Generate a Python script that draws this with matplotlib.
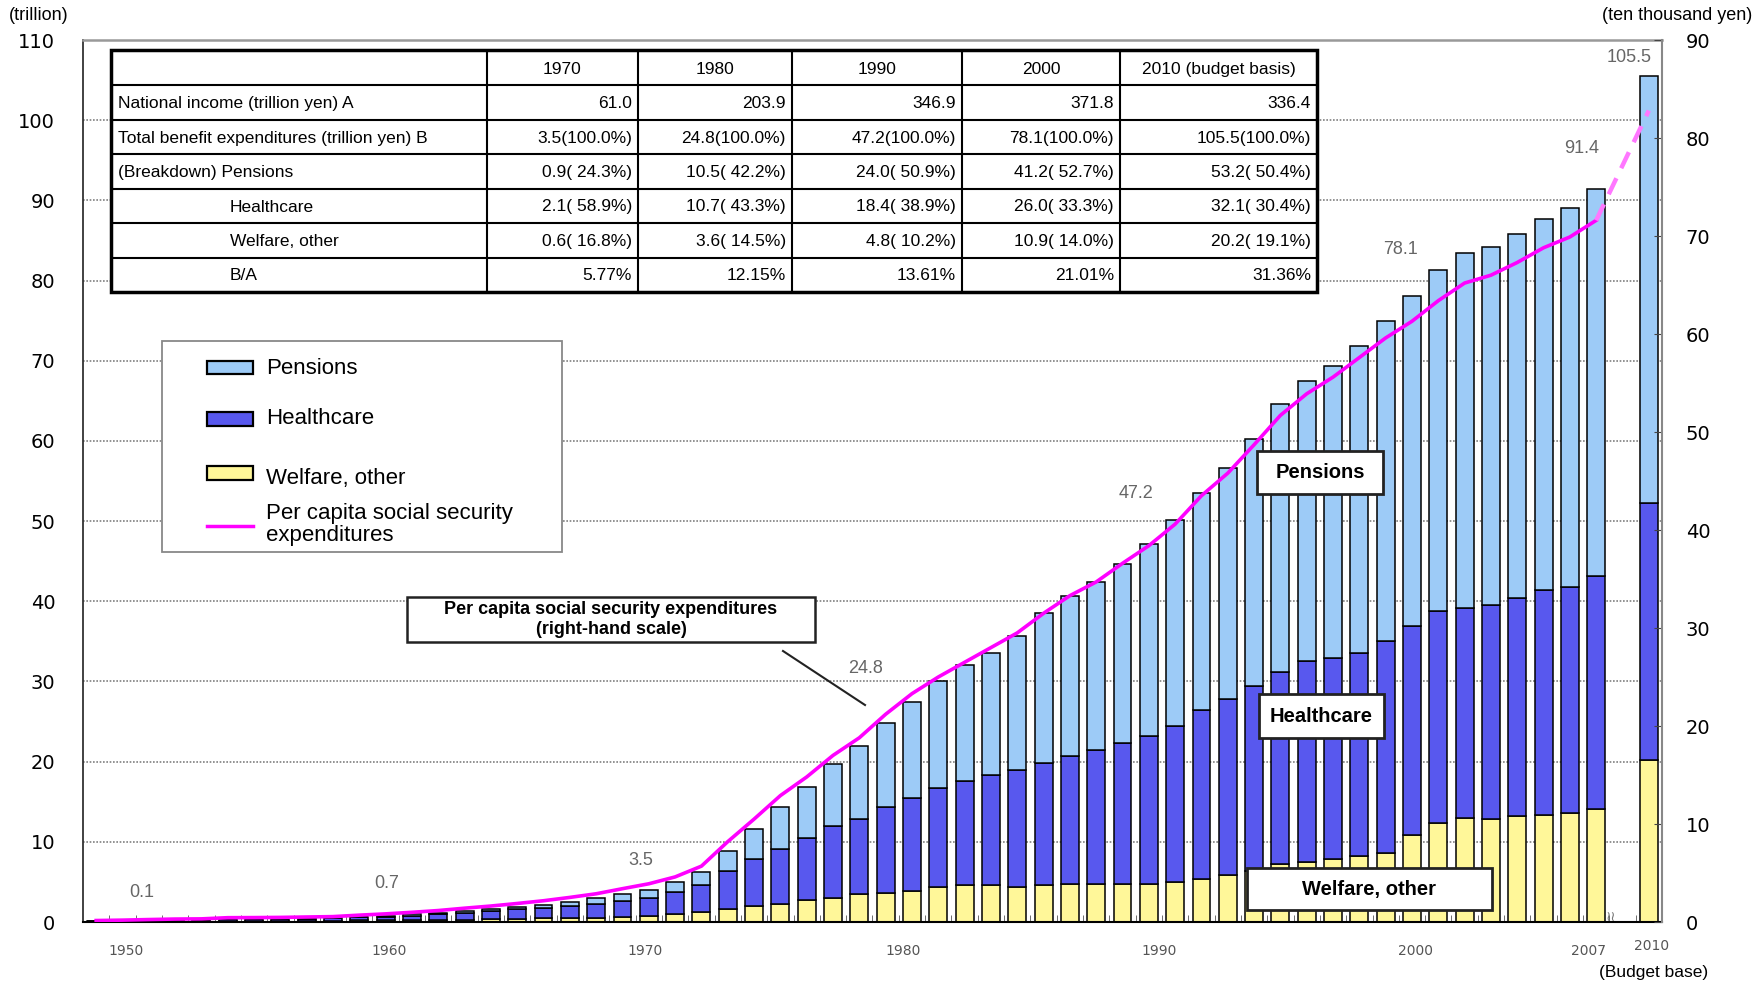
import numpy as np
import matplotlib.pyplot as plt
from matplotlib.patches import Rectangle
from matplotlib.lines import Line2D
from matplotlib.transforms import ScaledTranslation

plt.rcParams['font.family'] = ['Liberation Sans', 'DejaVu Sans']

# benefit expenditures by year (trillion yen), 1950-2007 and 2010 budget
years = list(range(1950, 2008)) + [2010]
pensions = [0.00, 0.01, 0.01, 0.02, 0.03, 0.04, 0.04, 0.05, 0.06, 0.07,
            0.09, 0.12, 0.15, 0.18, 0.21, 0.24, 0.29, 0.40, 0.55, 0.69,
            0.86, 1.05, 1.25, 1.60, 2.60, 3.70, 5.30, 6.30, 7.70, 9.00,
            10.5, 12.0, 13.4, 14.4, 15.2, 16.8, 18.7, 20.0, 21.0, 22.4,
            24.0, 25.7, 27.1, 28.8, 30.9, 33.4, 34.9, 36.4, 38.2, 39.8,
            41.2, 42.5, 44.2, 44.7, 45.4, 46.3, 47.3, 48.2,
            53.2]
healthcare = [0.07, 0.08, 0.12, 0.15, 0.16, 0.22, 0.23, 0.24, 0.27, 0.29,
              0.37, 0.46, 0.56, 0.69, 0.85, 1.00, 1.15, 1.30, 1.50, 1.72,
              2.06, 2.30, 2.85, 3.40, 4.70, 5.90, 6.80, 7.80, 9.00, 9.40,
              10.7, 11.6, 12.3, 13.0, 13.7, 14.5, 15.2, 16.0, 16.7, 17.6,
              18.4, 19.4, 21.0, 21.9, 23.1, 24.0, 25.1, 25.1, 25.4, 26.5,
              26.0, 26.4, 26.2, 26.7, 27.2, 28.0, 28.2, 29.1,
              32.1]
welfare = [0.06, 0.07, 0.09, 0.09, 0.09, 0.13, 0.14, 0.14, 0.14, 0.15,
           0.20, 0.21, 0.24, 0.26, 0.31, 0.36, 0.43, 0.48, 0.49, 0.54,
           0.59, 0.70, 0.95, 1.20, 1.60, 2.00, 2.30, 2.70, 3.00, 3.50,
           3.6, 3.9, 4.4, 4.6, 4.6, 4.4, 4.6, 4.7, 4.7, 4.7,
           4.8, 5.0, 5.4, 5.9, 6.3, 7.2, 7.5, 7.8, 8.2, 8.6,
           10.9, 12.4, 13.0, 12.8, 13.2, 13.4, 13.6, 14.1,
           20.2]
# per capita social security expenditures (ten thousand yen)
per_capita = [0.15, 0.19, 0.25, 0.30, 0.32, 0.44, 0.45, 0.47, 0.51, 0.55,
              0.70, 0.83, 0.99, 1.17, 1.41, 1.63, 1.89, 2.17, 2.51, 2.88,
              3.40, 3.90, 4.60, 5.70, 8.20, 10.5, 12.9, 14.8, 17.0, 18.8,
              21.2, 23.3, 25.0, 26.5, 28.0, 29.5, 31.5, 33.3, 34.7, 36.6,
              38.4, 40.6, 43.5, 45.8, 48.7, 51.7, 53.9, 55.6, 57.6, 59.6,
              61.3, 63.4, 65.2, 66.0, 67.3, 68.8, 69.9, 71.6,
              82.8]

label_years = [1950, 1960, 1970, 1980, 1990, 2000, 2007, 2010]

# table
table_header = ['', '1970', '1980', '1990', '2000', '2010 (budget basis)']
table_rows = ['National income (trillion yen) A',
              'Total benefit expenditures (trillion yen) B',
              '(Breakdown) Pensions', 'Healthcare', 'Welfare, other', 'B/A']
national_income = ['61.0', '203.9', '346.9', '371.8', '336.4']
benefit_total = ['3.5(100.0%)', '24.8(100.0%)', '47.2(100.0%)', '78.1(100.0%)', '105.5(100.0%)']
benefit_pensions = ['0.9( 24.3%)', '10.5( 42.2%)', '24.0( 50.9%)', '41.2( 52.7%)', '53.2( 50.4%)']
benefit_health = ['2.1( 58.9%)', '10.7( 43.3%)', '18.4( 38.9%)', '26.0( 33.3%)', '32.1( 30.4%)']
benefit_welfare = ['0.6( 16.8%)', '3.6( 14.5%)', '4.8( 10.2%)', '10.9( 14.0%)', '20.2( 19.1%)']
ratio_ba = ['5.77%', '12.15%', '13.61%', '21.01%', '31.36%']

c_pen = '#9DCBF7'
c_hc = '#5858EE'
c_wel = '#FFF799'
c_line = '#FF00FF'

W, H = 1756, 982
def fx(x): return x / W
def fy(y): return 1 - y / H

fig = plt.figure(figsize=(W / 100, H / 100), dpi=100)
ax = fig.add_axes([fx(83), fy(922), (1662 - 83) / W, (922 - 40) / H])

pos = np.arange(len(years), dtype=float)
pos[-1] += 1  # break between 2007 and 2010
p = np.array(pensions)
h = np.array(healthcare)
w = np.array(welfare)
total = p + h + w

bw = 0.68
ax.bar(pos, w, bw, color=c_wel, edgecolor='black', linewidth=1.1, zorder=2)
ax.bar(pos, h, bw, bottom=w, color=c_hc, edgecolor='black', linewidth=1.1, zorder=2)
ax.bar(pos, p, bw, bottom=w + h, color=c_pen, edgecolor='black', linewidth=1.1, zorder=2)

ax.set_xlim(-0.5, pos[-1] + 0.5)
ax.set_ylim(0, 110)
ax.set_yticks(range(0, 111, 10))
ax.yaxis.grid(True, color='#808080', linestyle=(0, (1, 1)), linewidth=1.2)
ax.set_axisbelow(True)
ax.tick_params(axis='y', direction='in', length=0, pad=20, labelsize=14,
               labelfontfamily='DejaVu Sans')

tick_nudge = [1.15, 1.15, 0.85, 0.65, 0.4, 0.15, -0.3, 0.1]
xt = [pos[years.index(y)] + n for y, n in zip(label_years, tick_nudge)]
ax.set_xticks(xt, [str(y) for y in label_years])
ax.tick_params(axis='x', which='major', length=0, pad=16, labelsize=10,
               labelcolor='#555555', labelfontfamily='DejaVu Sans')
ax.set_xticks(np.r_[pos[:-1] + 0.5, pos[-1] - 0.5], minor=True)
ax.tick_params(axis='x', which='minor', direction='in', length=5, color='#555555')
# the 2010 label sits a little higher in the original
last = ax.get_xticklabels()[-1]
last.set_transform(last.get_transform() + ScaledTranslation(0, 0.05, fig.dpi_scale_trans))

ax.spines['right'].set_visible(False)
ax.spines['top'].set_color('#999999')
ax.spines['top'].set_linewidth(1.8)
ax.spines['left'].set_color('#333333')
ax.spines['left'].set_linewidth(1.3)
ax.spines['bottom'].set_color('black')
ax.spines['bottom'].set_linewidth(1.5)

ax2 = ax.twinx()
ax2.set_ylim(0, 90)
ax2.set_yticks(range(0, 91, 10))
ax2.tick_params(axis='y', direction='in', length=6, pad=17, labelsize=14,
                labelfontfamily='DejaVu Sans', color='#444444')
for s in ['top', 'left', 'bottom']:
    ax2.spines[s].set_visible(False)
ax2.spines['right'].set_color('#888888')
ax2.spines['right'].set_linewidth(1.5)

pc = np.array(per_capita)
ax2.plot(pos[:-1], pc[:-1], color=c_line, lw=2.6, zorder=3)
ax2.plot(pos[-2:], pc[-2:], color='#FF77FF', lw=3.2, ls=(0, (4, 2.5)), zorder=3)

# total value labels
label_offsets = [(46, 28), (27, 33), (18, 33), (-20, 55), (-13, 50), (-11, 46), (-15, 41), (-20, 19)]
for y, (dx, dy) in zip(label_years, label_offsets):
    i = years.index(y)
    ax2.annotate(f'{total[i]:.1f}', xy=(pos[i], total[i]), xycoords=ax.transData,
                 xytext=(dx, dy), textcoords='offset pixels', ha='center', va='center',
                 fontsize=13, color='#666666', zorder=5)

# axis unit texts
fig.text(fx(39), fy(15), '(trillion)', ha='center', va='center', fontsize=13)
fig.text(fx(1752), fy(15), '(ten thousand yen)', ha='right', va='center', fontsize=13)
fig.text(fx(1654), fy(972), '(Budget base)', ha='center', va='center', fontsize=12.5)
fig.text(fx(1611), fy(917), '\u2240\u2240', ha='center', va='center', fontsize=10,
         color='#777777', family='DejaVu Sans')


def boxed_text(x0, y0, x1, y1, text, fontsize, lw=2.0):
    fig.add_artist(Rectangle((fx(x0), fy(y1)), (x1 - x0) / W, (y1 - y0) / H,
                             transform=fig.transFigure, facecolor='white',
                             edgecolor='#222222', lw=lw))
    fig.text(fx((x0 + x1) / 2), fy((y0 + y1) / 2), text, ha='center', va='center',
             fontsize=fontsize, fontweight='bold', linespacing=1.3)


boxed_text(407, 597, 815, 642,
           'Per capita social security expenditures\n(right-hand scale)', 13, lw=1.8)
fig.add_artist(Line2D([fx(783), fx(865)], [fy(651), fy(705)], color='#222222', lw=1.5,
                      transform=fig.transFigure))
boxed_text(1257, 451, 1383, 494, 'Pensions', 14.5)
boxed_text(1259, 694, 1384, 738, 'Healthcare', 14.5)
boxed_text(1247, 868, 1492, 910, 'Welfare, other', 14.5)

# legend
fig.add_artist(Rectangle((fx(162), fy(552)), 400 / W, 211 / H, transform=fig.transFigure,
                         facecolor='white', edgecolor='#888888', lw=1.3))
for yc, ty, col, lab in [(367, 368, c_pen, 'Pensions'), (419, 419, c_hc, 'Healthcare'),
                         (473, 478, c_wel, 'Welfare, other')]:
    fig.add_artist(Rectangle((fx(207), fy(yc + 6.5)), 46 / W, 13 / H, transform=fig.transFigure,
                             facecolor=col, edgecolor='black', lw=1.6))
    fig.text(fx(266), fy(ty), lab, ha='left', va='center', fontsize=16)
fig.add_artist(Line2D([fx(207), fx(253)], [fy(526), fy(526)], color=c_line, lw=2.5,
                      transform=fig.transFigure))
fig.text(fx(266), fy(513), 'Per capita social security', ha='left', va='center', fontsize=16)
fig.text(fx(266), fy(535), 'expenditures', ha='left', va='center', fontsize=16)

# table
tab = fig.add_axes([fx(111), fy(292), 1206 / W, 242 / H])
tab.set_xlim(0, 1206)
tab.set_ylim(242, 0)
tab.axis('off')
tab.add_patch(Rectangle((0, 0), 1206, 242, facecolor='white', edgecolor='none', zorder=0))
col_edges = [0, 376, 527, 681, 851, 1009, 1206]
row_edges = [0, 35, 70, 104, 139, 173, 208, 242]
for x in col_edges[1:-1]:
    tab.plot([x, x], [0, 242], color='black', lw=1.5)
for y in row_edges[1:-1]:
    tab.plot([0, 1206], [y, y], color='black', lw=1.5)
tab.add_patch(Rectangle((0, 0), 1206, 242, fill=False, edgecolor='black', lw=2.5, clip_on=False))

def row_mid(r):
    return (row_edges[r] + row_edges[r + 1]) / 2

for j, txt in enumerate(table_header[1:]):
    tab.text((col_edges[j + 1] + col_edges[j + 2]) / 2, row_mid(0) + 2, txt,
             ha='center', va='center', fontsize=12.5)
body = [national_income, benefit_total, benefit_pensions, benefit_health, benefit_welfare, ratio_ba]
for r, (name, vals) in enumerate(zip(table_rows, body)):
    indent = 7 if r < 3 else 119
    tab.text(indent, row_mid(r + 1) + 1, name, ha='left', va='center', fontsize=12.5)
    for j, v in enumerate(vals):
        tab.text(col_edges[j + 2] - 6, row_mid(r + 1) + 1, v, ha='right', va='center', fontsize=12.5)

fig.savefig('out.png', dpi=100)
